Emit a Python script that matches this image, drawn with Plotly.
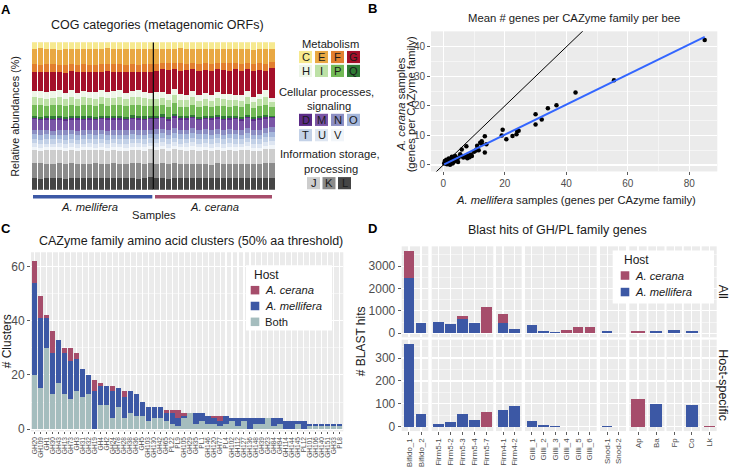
import numpy as np
import plotly.graph_objects as go

W, H = 729, 468
FONT = "Liberation Sans, Arial, sans-serif"
GRAY30 = "#4d4d4d"

def fx(px):
    return px / W

def fy(py):
    return 1 - py / H

# ---------------- Panel A data: COG category relative abundances (40 samples) ----------------
samples = list(range(1, 41))
host_split = 20  # first 20 samples A. mellifera, last 20 A. cerana
cog_C = [4.5,4.2,4.8,4.4,5.0,4.6,4.3,4.7,4.5,4.9,4.4,4.6,4.2,4.8,4.5,4.7,4.3,4.6,4.4,4.9, 4.6,4.3,4.7,4.5,4.2,4.8,4.4,4.6,4.3,4.7,4.5,4.4,4.8,4.2,4.6,4.5,4.9,4.3,4.6,4.4]
cog_E = [10.5,11.0,10.2,10.8,10.4,11.2,10.6,10.9,10.3,10.7,11.1,10.5,10.8,10.2,10.6,11.0,10.4,10.9,10.6,10.3, 9.8,9.4,9.6,9.2,9.9,9.5,9.3,9.7,9.4,9.8,9.1,9.6,9.5,9.3,9.9,9.2,9.6,9.4,9.7,8.6]
cog_F = [5.1,4.8,5.3,5.0,4.9,5.2,4.7,5.0,5.4,4.9,5.1,5.0,4.8,5.2,5.0,4.9,5.3,4.8,5.1,5.0, 4.8,4.5,4.7,4.4,4.9,4.6,4.3,4.8,4.5,4.7,4.6,4.4,4.8,4.5,4.7,4.3,4.6,4.9,4.5,4.0]
cog_G = [12.8,13.5,14.2,13.0,12.6,13.8,13.2,14.0,12.9,13.6,13.1,12.7,14.3,13.4,12.8,13.7,13.0,12.5,13.9,14.8, 14.5,15.2,16.0,12.8,15.8,16.5,15.0,16.2,15.6,16.8,15.3,16.0,15.5,17.0,16.2,14.0,17.5,15.8,13.0,20.0]
cog_H = [4.6,4.3,4.5,4.8,4.4,4.2,4.7,4.5,4.3,4.6,4.9,4.4,4.1,4.5,4.7,4.3,4.6,4.8,4.2,3.8, 4.2,4.0,3.8,4.5,3.9,3.6,4.1,3.8,4.0,3.5,3.9,3.7,4.0,3.4,3.8,4.2,3.3,3.9,4.4,3.0]
cog_I = [5.0,5.2,4.8,5.1,5.3,4.9,5.0,4.7,5.2,5.0,4.8,5.1,4.9,5.3,5.0,4.8,5.2,5.0,4.9,4.6, 4.8,4.6,4.9,5.0,4.5,4.7,4.8,4.4,4.6,4.5,4.9,4.6,4.7,4.3,4.6,4.8,4.2,4.7,4.9,3.5]
cog_P = [7.4,7.8,7.0,7.6,7.9,7.2,7.5,7.1,7.7,7.3,7.6,7.9,7.2,7.4,7.8,7.5,7.1,7.6,7.3,7.0, 6.8,6.5,6.9,7.2,6.4,6.2,6.7,6.3,6.6,6.0,6.5,6.8,6.4,6.1,6.6,7.0,5.9,6.5,6.9,5.5]
cog_Q = [1.4,1.5,1.3,1.6,1.4,1.5,1.3,1.4,1.6,1.5,1.4,1.3,1.5,1.4,1.6,1.3,1.5,1.4,1.5,1.3, 1.3,1.4,1.2,1.5,1.3,1.2,1.4,1.3,1.2,1.4,1.3,1.5,1.2,1.3,1.4,1.2,1.3,1.4,1.2,1.0]
cog_D = [1.2,1.1,1.3,1.2,1.0,1.2,1.4,1.1,1.2,1.3,1.1,1.2,1.0,1.3,1.2,1.1,1.2,1.4,1.1,1.2, 1.1,1.2,1.0,1.3,1.1,1.2,1.1,1.0,1.2,1.1,1.3,1.0,1.1,1.2,1.0,1.1,1.2,1.0,1.1,0.9]
cog_M = [7.0,6.8,7.3,6.9,7.2,6.6,7.1,7.4,6.8,7.0,6.7,7.2,7.5,6.9,7.0,6.8,7.3,7.1,6.9,7.2, 6.6,6.9,6.4,7.0,6.7,6.5,6.8,6.3,6.6,6.9,6.4,6.7,6.5,6.8,6.2,6.6,6.4,6.9,6.5,6.0]
cog_N = [3.0,3.2,2.9,3.1,3.0,3.3,2.8,3.0,3.1,2.9,3.2,3.0,2.9,3.1,3.0,3.2,2.8,3.0,3.1,3.0, 3.1,3.0,3.2,2.9,3.1,3.0,3.3,3.0,2.9,3.1,3.2,3.0,3.1,2.9,3.0,3.2,3.0,3.1,2.9,3.0]
cog_O = [3.1,3.0,3.2,2.9,3.1,3.0,3.2,3.1,2.9,3.0,3.1,3.2,3.0,2.9,3.1,3.0,3.2,3.0,3.1,2.9, 3.2,3.1,3.0,3.3,3.1,3.2,3.0,3.1,3.3,3.0,3.2,3.1,3.0,3.2,3.1,3.0,3.2,3.1,3.0,3.2]
cog_T = [3.0,2.9,3.1,3.0,2.8,3.0,3.1,2.9,3.0,3.2,2.9,3.0,3.1,3.0,2.9,3.1,3.0,2.9,3.0,3.1, 3.1,3.2,3.0,3.1,3.2,3.0,3.1,3.2,3.0,3.1,3.2,3.0,3.1,3.2,3.0,3.1,3.0,3.2,3.1,3.0]
cog_U = [2.5,2.6,2.4,2.5,2.7,2.5,2.4,2.6,2.5,2.4,2.6,2.5,2.4,2.5,2.6,2.5,2.4,2.6,2.5,2.4, 2.6,2.5,2.7,2.6,2.5,2.6,2.7,2.5,2.6,2.7,2.5,2.6,2.7,2.6,2.5,2.7,2.6,2.5,2.6,2.7]
cog_V = [2.1,2.0,2.2,2.1,2.0,2.1,2.2,2.0,2.1,2.2,2.0,2.1,2.1,2.0,2.2,2.1,2.0,2.1,2.2,2.0, 2.2,2.1,2.3,2.2,2.1,2.2,2.3,2.1,2.2,2.3,2.1,2.2,2.3,2.2,2.1,2.3,2.2,2.1,2.2,2.3]
cog_J = [9.2,8.8,9.4,9.0,8.9,9.3,8.7,9.1,9.0,9.5,8.8,9.2,8.9,9.3,9.0,8.8,9.4,9.1,8.9,9.2, 9.0,9.3,8.8,9.2,9.1,8.9,9.4,9.0,8.7,9.2,9.0,8.8,9.3,9.1,8.9,9.2,8.8,9.0,9.1,9.6]
cog_K = [10.0,10.3,9.8,10.1,10.2,9.9,10.4,9.7,10.0,10.1,10.3,9.8,10.0,10.2,9.9,10.1,10.0,10.3,9.8,10.0, 9.8,10.0,9.6,9.9,9.7,9.5,9.9,9.4,9.6,9.3,9.8,9.5,9.4,9.2,9.7,9.6,9.3,9.5,9.8,10.2]
cog_L = [7.8,7.6,8.0,7.7,7.9,7.5,7.8,8.1,7.6,7.8,7.7,7.9,7.6,8.0,7.8,7.7,7.9,7.6,7.8,8.4, 7.6,7.8,7.5,7.7,7.6,7.9,7.5,7.7,7.8,7.6,7.7,7.5,7.8,7.6,7.7,7.5,7.8,7.6,7.7,7.6]

cog_stack = [("L", cog_L), ("K", cog_K), ("J", cog_J), ("V", cog_V), ("U", cog_U), ("T", cog_T),
             ("O", cog_O), ("N", cog_N), ("M", cog_M), ("D", cog_D), ("Q", cog_Q), ("P", cog_P),
             ("I", cog_I), ("H", cog_H), ("G", cog_G), ("F", cog_F), ("E", cog_E), ("C", cog_C)]
cog_colors = {"C": "#f6e98f", "E": "#e9a843", "F": "#e27f2f", "G": "#a4102a",
              "H": "#eef6e8", "I": "#bde1a6", "P": "#73ba56", "Q": "#2f7b35",
              "D": "#5b2b87", "M": "#7a55a6", "N": "#8c8ec3", "O": "#a5b7db",
              "T": "#c3d1e7", "U": "#dde5f1", "V": "#f1f5f9",
              "J": "#cdcdcd", "K": "#8b8b8b", "L": "#454545"}

# ---------------- Panel B data: mean genes per CAZyme family per bee ----------------
b_mellifera = [85, 55.5, 43, 36.8, 34, 32, 30, 30, 24.5, 24, 23.8, 22.5, 20.5, 19.3, 19,
               13.5, 13.5, 12.5, 12, 11, 10.8, 10.5, 10, 9, 8.5, 7.5, 7, 6, 6, 5, 4.5, 4,
               3.5, 3, 3, 2.5, 2, 2, 1.5, 1, 0.5, 0.5, 1, 2.8, 3.8, 4.2, 5.5, 8, 9.3, 12.5,
               11.5, 14, 6.5, 7.8, 2.2, 1.2, 0.3, 1.8, 4.8, 3.2]
b_cerana = [42.3, 28.7, 24.5, 20.2, 19.2, 15.4, 17.2, 13.7, 11.6, 11.5, 10.4, 9.8, 8.7, 11.9, 10,
            9.7, 4.2, 8, 7.5, 6.5, 5.2, 4.8, 4.5, 3.5, 2.6, 6.3, 2.8, 5.2, 3, 2.5, 2, 1.5,
            1.2, 2.5, 0.5, 1.8, 0.3, 1, 1.5, 0.5, 1.3, 0.8, 1.8, 2.8, 3, 2.2, 3.6, 3.3, 3, 7.2,
            5, 7, 2.5, 2.3, 0.1, 0.2, 0.5, 2.2, 1, 0.8]

# ---------------- Panel C data: CAZyme family clusters ----------------
c_families = ["GH20","GH109","GH1","GH30","GH43","GH13","GH73","GH3","GH31","GH32","GH19","GH4","GH2",
              "GH24","GH78","GH28","GH38","GH36","GH5","GH103","GH130","GH42","GH65","PL22","PL9",
              "GH105","GH29","GH35","PL1","GH146","GH120","GH77","PL4","GH102","GH112","GH127",
              "GH136","GH148","GH39","GH23","GH84","GH94","GH114","GH144","GH145","PL12","GH101",
              "GH106","GH140","GH151","GH33","PL8"]
c_both =      [20,15,30,13,17,13,11,14,12,13,0,9,9,4,8,4,6,5,5,3,4,4,3,2,1,4,6,2,3,2,2,1,2,3,1,3,0,2,2,4,1,2,0,0,2,0,1,1,1,1,1,1]
c_mellifera = [34,26,11,15,16,15,14,12,10,7,14,7,7,10,7,8,8,8,5,5,4,4,3,4,3,1,0,4,3,3,2,2,3,1,3,1,4,2,2,0,3,2,3,3,1,3,1,1,1,1,1,1]
c_cerana =    [8,8,1,8,0,2,5,2,0,0,4,1,0,2,0,2,0,0,0,0,0,0,1,1,3,1,0,0,0,0,1,2,0,0,0,0,0,0,0,0,0,0,0,0,0,0,0,0,0,0,0,0]

# ---------------- Panel D data: BLAST hits of GH/PL genes ----------------
d_groups = ["Bifido","Bifido","Firm5","Firm5","Firm5","Firm5","Firm5","Firm4","Firm4",
            "Gilli","Gilli","Gilli","Gilli","Gilli","Gilli","Snod","Snod","Ap","Ba","Fp","Co","Lk"]
d_strains = ["Bifido_1","Bifido_2","Firm5-1","Firm5-2","Firm5-3","Firm5-4","Firm5-7","Firm4-1","Firm4-2",
             "Gilli_1","Gilli_2","Gilli_3","Gilli_4","Gilli_5","Gilli_6","Snod-1","Snod-2","Ap","Ba","Fp","Co","Lk"]
d_all_mellifera = [2490,440,510,425,630,470,0,470,175,380,100,45,0,0,0,115,0,0,100,160,100,0]
d_all_cerana =    [1170,0,0,0,130,0,1160,395,0,0,0,0,130,280,265,0,30,115,0,0,0,22]
d_hs_mellifera =  [361,56,13,23,58,32,0,72,93,26,9,4,0,0,0,4,0,0,100,0,97,0]
d_hs_cerana =     [0,0,0,0,0,0,65,2,0,0,0,0,1,0,0,0,0,120,0,0,0,6]

COL_CER = "#a64d6b"
COL_MEL = "#3c58a5"
COL_BOTH = "#a5bdbe"

fig = go.Figure()
shapes = []
ann = []

def text(px, py, s, size=11, color="#1a1a1a", xanchor="center", yanchor="middle", angle=0, bold=False):
    if bold:
        s = "<b>" + s + "</b>"
    ann.append(dict(x=fx(px), y=fy(py), xref="paper", yref="paper", text=s, showarrow=False,
                    xanchor=xanchor, yanchor=yanchor, textangle=angle,
                    font=dict(size=size, color=color, family=FONT)))

# ---------------- Panel A ----------------
totals = np.sum([np.array(v, dtype=float) for _, v in cog_stack], axis=0)
for name, vals in cog_stack:
    pct = np.array(vals, dtype=float) / totals * 100
    fig.add_trace(go.Bar(x=samples, y=pct, marker=dict(color=cog_colors[name], line=dict(width=0)),
                         width=0.84, xaxis="x", yaxis="y", hoverinfo="skip"))
shapes.append(dict(type="rect", xref="x domain", yref="y domain", x0=-0.01, x1=1.01, y0=0, y1=1,
                   fillcolor="white", line=dict(width=0), layer="below"))
shapes.append(dict(type="line", xref="x", yref="y", x0=host_split + 0.5, x1=host_split + 0.5, y0=0, y1=100,
                   line=dict(color="black", width=1.2)))
shapes.append(dict(type="line", xref="paper", yref="paper", x0=fx(33), x1=fx(152.3), y0=fy(199), y1=fy(199),
                   line=dict(color=COL_MEL, width=3.5)))
shapes.append(dict(type="line", xref="paper", yref="paper", x0=fx(155), x1=fx(272), y0=fy(199), y1=fy(199),
                   line=dict(color=COL_CER, width=3.5)))
text(6, 10, "A", 13, "black", bold=True)
text(157, 25.5, "COG categories (metagenomic ORFs)", 12.5)
text(15, 118, "Relative abundances (%)", 10.8, angle=-90)
text(89, 209.5, "<i>A. mellifera</i>", 11.2)
text(214, 209.5, "<i>A. cerana</i>", 11.2)
text(153.5, 217.5, "Samples", 11.2)

# Panel A legend (colour keys)
def keybox(x0, y0, letter):
    shapes.append(dict(type="rect", xref="paper", yref="paper", x0=fx(x0), x1=fx(x0 + 13), y0=fy(y0 + 12.3), y1=fy(y0),
                       fillcolor=cog_colors[letter], line=dict(width=0)))
    text(x0 + 6.5, y0 + 6.3, letter, 11.2, "#1a1a1a")

text(330, 44, "Metabolism", 11.2)
for i, l in enumerate(["C", "E", "F", "G"]):
    keybox(299 + 16 * i, 51.5, l)
for i, l in enumerate(["H", "I", "P", "Q"]):
    keybox(299 + 16 * i, 65.5, l)
text(326.5, 93, "Cellular processes,", 11.2)
text(329, 107, "signaling", 11.2)
for i, l in enumerate(["D", "M", "N", "O"]):
    keybox(299 + 16 * i, 115, l)
for i, l in enumerate(["T", "U", "V"]):
    keybox(299 + 16 * i, 130.5, l)
text(329.5, 156, "Information storage,", 11.2)
text(331, 171, "processing", 11.2)
for i, l in enumerate(["J", "K", "L"]):
    keybox(307 + 15.5 * i, 179, l)

# ---------------- Panel B ----------------
bx = np.array(b_mellifera, dtype=float)
by = np.array(b_cerana, dtype=float)
slope, intercept = np.polyfit(bx, by, 1)
fig.add_trace(go.Scatter(x=[-10, 100], y=[-10, 100], mode="lines", line=dict(color="black", width=1),
                         xaxis="x2", yaxis="y2", hoverinfo="skip"))
fig.add_trace(go.Scatter(x=bx, y=by, mode="markers", marker=dict(color="black", size=4.5),
                         xaxis="x2", yaxis="y2", hoverinfo="skip"))
lx = np.array([bx.min(), bx.max()])
fig.add_trace(go.Scatter(x=lx, y=slope * lx + intercept, mode="lines", line=dict(color="#3366FF", width=2),
                         xaxis="x2", yaxis="y2", hoverinfo="skip"))
text(372, 9, "B", 13, "black", bold=True)
text(574, 18, "Mean # genes per CAZyme family per bee", 11.3)
text(400.5, 106, "<i>A. cerana</i> samples", 11.2, angle=-90)
text(410.5, 106, "(genes per CAZyme family)", 11.2, angle=-90)
text(576, 202, "<i>A. mellifera</i> samples (genes per CAzyme family)", 11.2)

# ---------------- Panel C ----------------
for vals, col in [(c_both, COL_BOTH), (c_mellifera, COL_MEL), (c_cerana, COL_CER)]:
    fig.add_trace(go.Bar(x=c_families, y=vals, width=0.9, marker=dict(color=col, line=dict(width=0)),
                         xaxis="x3", yaxis="y3", hoverinfo="skip"))
text(6, 231, "C", 13, "black", bold=True)
text(191, 244, "CAZyme family amino acid clusters (50% aa threshold)", 12.5)
text(7, 345, "# Clusters", 12, angle=-90)
# legend C
shapes.append(dict(type="rect", xref="paper", yref="paper", x0=fx(246), x1=fx(332), y0=fy(334), y1=fy(268),
                   fillcolor="white", line=dict(width=0)))
text(251.5, 278.3, "Host", 12, xanchor="left")
for yy, col, lab in [(293.3, COL_CER, "<i>A. cerana</i>"), (309.3, COL_MEL, "<i>A. mellifera</i>"), (325.3, COL_BOTH, "Both")]:
    shapes.append(dict(type="rect", xref="paper", yref="paper", x0=fx(250.7), x1=fx(259.3), y0=fy(yy + 4.3), y1=fy(yy - 4.3),
                       fillcolor=col, line=dict(width=0)))
    text(263.3, yy, lab, 11.2, xanchor="left")

# ---------------- Panel D ----------------
facet_names = []
for g in d_groups:
    if g not in facet_names:
        facet_names.append(g)
facet_px = [(401.7, 428.3), (431.7, 493.3), (496, 521.7), (525, 596.7), (600, 626),
            (629.3, 646.7), (648.3, 664.5), (666.5, 682), (683.8, 700), (701.7, 716.7)]
top_y = (249, 341)
bot_y = (343.3, 435.7)

layout_axes = {}
for j, g in enumerate(facet_names):
    idx = [i for i, gg in enumerate(d_groups) if gg == g]
    cats = [d_strains[i] for i in idx]
    xt = "x%d" % (4 + j)
    xb = "x%d" % (14 + j)
    for (mel, cer, xa, ya) in [(d_all_mellifera, d_all_cerana, xt, "y4"), (d_hs_mellifera, d_hs_cerana, xb, "y5")]:
        fig.add_trace(go.Bar(x=cats, y=[mel[i] for i in idx], width=0.9, marker=dict(color=COL_MEL, line=dict(width=0)),
                             xaxis=xa, yaxis=ya, hoverinfo="skip"))
        fig.add_trace(go.Bar(x=cats, y=[cer[i] for i in idx], width=0.9, marker=dict(color=COL_CER, line=dict(width=0)),
                             xaxis=xa, yaxis=ya, hoverinfo="skip"))
    dom = [fx(facet_px[j][0]), fx(facet_px[j][1])]
    common = dict(type="category", categoryorder="array", categoryarray=cats, range=[-0.6, len(cats) - 0.4],
                  domain=dom, showgrid=True, gridcolor="white", gridwidth=1.1, zeroline=False, showline=False,
                  fixedrange=True, tickmode="array", tickvals=cats, ticktext=cats)
    layout_axes["xaxis%d" % (4 + j)] = dict(common, anchor="y4", showticklabels=False, ticks="")
    layout_axes["xaxis%d" % (14 + j)] = dict(common, anchor="y5", showticklabels=True, tickangle=-90,
                                              ticks="outside", ticklen=3, tickcolor="#333333", tickwidth=0.8,
                                              tickfont=dict(size=8, color=GRAY30, family=FONT))

text(372, 231, "D", 13, "black", bold=True)
text(557, 232.5, "Blast hits of GH/PL family genes", 12.5)
text(361, 345, "# BLAST hits", 12, angle=-90)
text(723, (top_y[0] + top_y[1]) / 2, "All", 12.5, angle=90)
text(723, (bot_y[0] + bot_y[1]) / 2, "Host-specific", 12.5, angle=90)
# legend D
shapes.append(dict(type="rect", xref="paper", yref="paper", x0=fx(612.7), x1=fx(714), y0=fy(306.7), y1=fy(253.3),
                   fillcolor="white", line=dict(width=0)))
text(621.5, 263.3, "Host", 12, xanchor="left")
for yy, col, lab in [(278.5, COL_CER, "<i>A. cerana</i>"), (295.2, COL_MEL, "<i>A. mellifera</i>")]:
    shapes.append(dict(type="rect", xref="paper", yref="paper", x0=fx(620.7), x1=fx(629.3), y0=fy(yy + 4.3), y1=fy(yy - 4.3),
                       fillcolor=col, line=dict(width=0)))
    text(632.7, yy, lab, 11.2, xanchor="left")

hidden = dict(visible=False, fixedrange=True)
tickcommon = dict(ticks="outside", ticklen=3, tickcolor="#333333", tickwidth=0.8, showline=False, zeroline=False,
                  showgrid=True, gridcolor="white", gridwidth=1.1, fixedrange=True)

fig.update_layout(
    width=W, height=H, autosize=False, margin=dict(l=0, r=0, t=0, b=0),
    paper_bgcolor="white", plot_bgcolor="#EBEBEB", barmode="stack", showlegend=False,
    font=dict(family=FONT, color="#1a1a1a"),
    xaxis=dict(hidden, domain=[fx(31.7), fx(275)], range=[0.5, 40.5], anchor="y"),
    yaxis=dict(hidden, domain=[fy(191.7), fy(42.7)], range=[0, 100], anchor="x"),
    xaxis2=dict(tickcommon, domain=[fx(431), fx(717.3)], range=[-4.0, 89.1], anchor="y2",
                tickvals=[0, 20, 40, 60, 80], tickfont=dict(size=10, color=GRAY30, family=FONT),
                minor=dict(tickvals=[10, 30, 50, 70], showgrid=True, gridcolor="white", gridwidth=0.5, ticks="")),
    yaxis2=dict(tickcommon, domain=[fy(173.3), fy(31.7)], range=[-2.2, 45.25], anchor="x2",
                tickvals=[0, 10, 20, 30, 40], tickfont=dict(size=10, color=GRAY30, family=FONT),
                minor=dict(tickvals=[5, 15, 25, 35], showgrid=True, gridcolor="white", gridwidth=0.5, ticks="")),
    xaxis3=dict(tickcommon, type="category", categoryorder="array", categoryarray=c_families,
                tickmode="array", tickvals=c_families, ticktext=c_families,
                domain=[fx(31), fx(343.3)], range=[-0.6, len(c_families) - 0.4], anchor="y3",
                tickangle=-90, ticklen=2, tickfont=dict(size=6.6, color=GRAY30, family=FONT)),
    yaxis3=dict(tickcommon, domain=[fy(436), fy(255)], range=[-0.8, 65.2], anchor="x3",
                tickvals=[0, 20, 40, 60], tickfont=dict(size=12, color=GRAY30, family=FONT),
                minor=dict(tickvals=[10, 30, 50], showgrid=True, gridcolor="white", gridwidth=0.5, ticks="")),
    yaxis4=dict(tickcommon, domain=[fy(top_y[1]), fy(top_y[0])], range=[-185, 3885], anchor="x4",
                tickvals=[0, 1000, 2000, 3000], tickfont=dict(size=12, color=GRAY30, family=FONT),
                minor=dict(tickvals=[500, 1500, 2500, 3500], showgrid=True, gridcolor="white", gridwidth=0.5, ticks="")),
    yaxis5=dict(tickcommon, domain=[fy(bot_y[1]), fy(bot_y[0])], range=[-18, 380], anchor="x14",
                tickvals=[0, 100, 200, 300], tickfont=dict(size=12, color=GRAY30, family=FONT),
                minor=dict(tickvals=[50, 150, 250, 350], showgrid=True, gridcolor="white", gridwidth=0.5, ticks="")),
    shapes=shapes, annotations=ann,
)
fig.update_layout(**layout_axes)
fig.write_html("out.html", config={"displayModeBar": False, "staticPlot": True},
               post_script="document.body.style.margin='0px';document.body.style.overflow='hidden';")
